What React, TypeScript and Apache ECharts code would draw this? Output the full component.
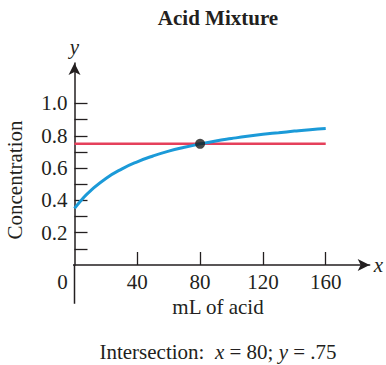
import React, { useEffect, useRef } from "react";
import * as echarts from "echarts";

const acidX = [0, 5, 10, 20, 30, 40, 50, 60, 70, 80, 90, 100, 110, 120, 130, 140, 150, 160];
const concentration = [0.35, 0.409, 0.458, 0.536, 0.594, 0.639, 0.675, 0.705, 0.729, 0.75, 0.768, 0.783, 0.797, 0.809, 0.819, 0.829, 0.838, 0.845];
const targetLevel = 0.75;
const targetRange = [0, 160];
const intersection = [80, 0.75];
const xTickValues = [40, 80, 120, 160];
const xLabelValues = [0, 40, 80, 120, 160];
const yTickValues = [0.1, 0.2, 0.3, 0.4, 0.5, 0.6, 0.7, 0.8, 0.9, 1.0];
const yLabelValues = [0.2, 0.4, 0.6, 0.8, 1.0];
const xAxisTail = [-20, 0];
const yAxisTail = [-0.24, 0];

const INK = "#231f20";
const FONT = "'Liberation Serif', 'DejaVu Serif', serif";

export default function App() {
  const ref = useRef<HTMLDivElement>(null);
  useEffect(() => {
    if (!ref.current) return;
    const chart = echarts.init(ref.current, undefined, { renderer: "svg" });
    const fs = 21;
    const axisLineStyle = { color: INK, width: 1.5 };
    chart.setOption({
      animation: false,
      textStyle: { fontFamily: FONT, color: INK },
      grid: { left: 74.5, right: 10.7, top: 63.1, bottom: 100 },
      xAxis: {
        type: "value",
        min: 0,
        max: 188,
        name: "x",
        nameLocation: "end",
        nameGap: 4,
        nameTextStyle: { fontFamily: FONT, fontStyle: "italic", fontSize: fs, color: INK, verticalAlign: "middle" },
        axisLine: {
          onZero: false,
          symbol: ["none", "arrow"],
          symbolSize: [9, 12],
          lineStyle: axisLineStyle,
        },
        axisTick: { show: true, inside: true, length: 13, customValues: xTickValues, lineStyle: { color: INK, width: 1.3 } },
        axisLabel: {
          customValues: xLabelValues,
          margin: 6,
          fontFamily: FONT,
          fontSize: fs,
          color: INK,
          formatter: (v: number) => (v === 0 ? "{z|0}" : String(v)),
          rich: { z: { fontFamily: FONT, fontSize: fs, color: INK, padding: [0, 24, 0, 0] } },
        },
        splitLine: { show: false },
      },
      yAxis: {
        type: "value",
        min: 0,
        max: 1.25,
        name: "y",
        nameLocation: "end",
        nameGap: 6,
        nameTextStyle: { fontFamily: FONT, fontStyle: "italic", fontSize: fs, color: INK },
        axisLine: {
          onZero: false,
          symbol: ["none", "arrow"],
          symbolSize: [9, 12],
          lineStyle: axisLineStyle,
        },
        axisTick: { show: true, inside: true, length: 13, customValues: yTickValues, lineStyle: { color: INK, width: 1.3 } },
        axisLabel: {
          customValues: yLabelValues,
          margin: 7,
          fontFamily: FONT,
          fontSize: fs,
          color: INK,
          formatter: (v: number) => v.toFixed(1),
        },
        splitLine: { show: false },
      },
      series: [
        {
          type: "line",
          data: xAxisTail.map((x) => [x, 0]),
          showSymbol: false,
          clip: false,
          silent: true,
          lineStyle: axisLineStyle,
          z: 1,
        },
        {
          type: "line",
          data: yAxisTail.map((y) => [0, y]),
          showSymbol: false,
          clip: false,
          silent: true,
          lineStyle: axisLineStyle,
          z: 1,
        },
        {
          type: "line",
          data: targetRange.map((x) => [x, targetLevel]),
          showSymbol: false,
          lineStyle: { color: "#e5405b", width: 2.5 },
          z: 2,
        },
        {
          type: "line",
          data: acidX.map((x, i) => [x, concentration[i]]),
          smooth: true,
          showSymbol: false,
          lineStyle: { color: "#1b9ad8", width: 3 },
          z: 3,
        },
        {
          type: "scatter",
          data: [intersection],
          symbolSize: 10,
          itemStyle: { color: "#1a1a1a" },
          z: 4,
        },
      ],
      graphic: [
        {
          type: "text",
          x: 218,
          y: 18,
          style: { text: "Acid Mixture", font: `bold ${fs}px ${FONT}`, fill: INK, align: "center", verticalAlign: "middle" },
        },
        {
          type: "text",
          x: 15,
          y: 180,
          rotation: Math.PI / 2,
          style: { text: "Concentration", font: `${fs}px ${FONT}`, fill: INK, align: "center", verticalAlign: "middle" },
        },
        {
          type: "text",
          x: 218,
          y: 307,
          style: { text: "mL of acid", font: `${fs}px ${FONT}`, fill: INK, align: "center", verticalAlign: "middle" },
        },
        {
          type: "text",
          x: 218,
          y: 352,
          style: {
            text: "{n|Intersection:  }{i|x}{n| = 80; }{i|y}{n| = .75}",
            align: "center",
            verticalAlign: "middle",
            rich: {
              n: { fontFamily: FONT, fontSize: fs, fill: INK, color: INK },
              i: { fontFamily: FONT, fontSize: fs, fontStyle: "italic", fill: INK, color: INK },
            },
          },
        },
      ],
    });
    return () => chart.dispose();
  }, []);
  return <div ref={ref} style={{ position: "fixed", left: 0, top: 0, width: 386, height: 365, background: "#fff" }} />;
}
